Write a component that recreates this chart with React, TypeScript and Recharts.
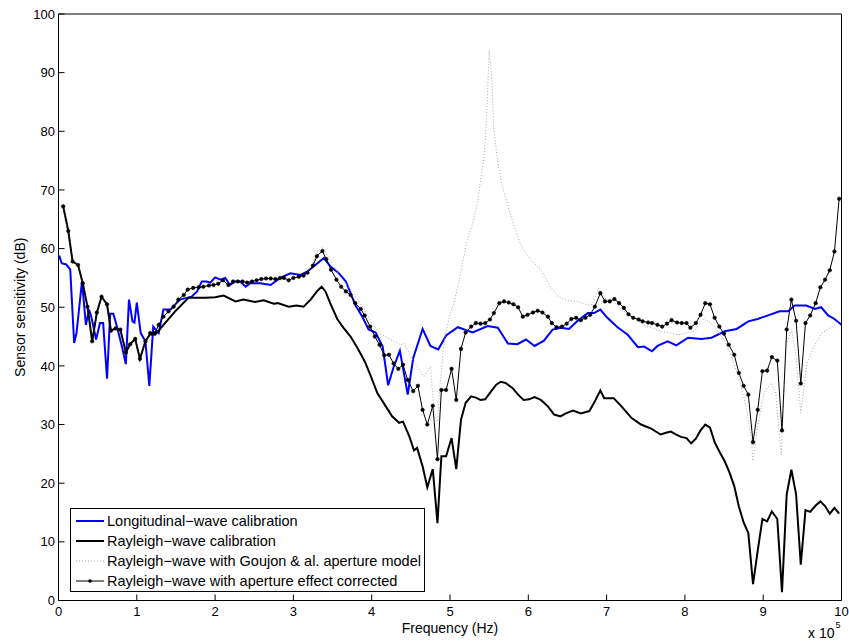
import React from "react";
import { LineChart, Line, XAxis, YAxis, Legend, Label } from "recharts";

// frequencies in units of 1e5 Hz, sensitivities in dB
const longFreq = [
  0.01, 0.04, 0.1, 0.15, 0.2, 0.23, 0.3, 0.35, 0.39, 0.42, 0.48, 0.53, 0.57, 0.62, 0.66, 0.7, 0.74, 0.81, 0.86, 0.9,
  0.945, 0.97, 1.0, 1.05, 1.11, 1.16, 1.21, 1.28, 1.34, 1.43, 1.55, 1.7, 1.77, 1.83, 1.89, 1.94, 2.0, 2.07, 2.13, 2.19,
  2.26, 2.32, 2.39, 2.45, 2.58, 2.71, 2.83, 2.96, 3.09, 3.18, 3.28, 3.39, 3.47, 3.58, 3.67, 3.73, 3.79, 3.88, 3.96, 4.05,
  4.14, 4.21, 4.28, 4.36, 4.46, 4.53, 4.65, 4.75, 4.85, 4.95, 5.1, 5.29, 5.48, 5.61, 5.74, 5.86, 5.97, 6.08, 6.2, 6.31,
  6.42, 6.52, 6.63, 6.76, 6.84, 6.92, 7.01, 7.14, 7.27, 7.4, 7.48, 7.58, 7.65, 7.78, 7.89, 8.04, 8.21, 8.34, 8.51, 8.66,
  8.81, 8.93, 9.08, 9.21, 9.32, 9.4, 9.55, 9.66, 9.74, 9.83, 9.91, 10.0,
];
const longSens = [
  58.8, 57.5, 57.3, 56.4, 43.9, 45.6, 54.4, 47.0, 49.6, 48.3, 44.5, 47.3, 47.3, 37.8, 48.9, 48.9, 47.0, 43.3, 40.3, 51.3,
  47.6, 47.4, 50.8, 45.6, 44.2, 36.6, 46.7, 45.6, 49.6, 49.6, 51.3, 51.8, 52.7, 54.4, 54.4, 54.2, 55.1, 54.7, 55.0, 53.8,
  54.4, 54.4, 53.5, 54.1, 54.1, 53.8, 55.0, 55.8, 55.5, 56.1, 57.2, 58.4, 57.0, 55.8, 54.4, 52.4, 50.4, 48.4, 46.2, 45.7,
  43.3, 36.7, 39.8, 42.6, 35.1, 41.3, 46.3, 43.4, 42.8, 45.2, 46.6, 45.7, 46.8, 46.5, 43.8, 43.7, 44.5, 43.4, 44.3, 46.2,
  46.5, 46.3, 47.7, 49.0, 49.0, 49.6, 48.2, 46.6, 45.3, 43.2, 43.3, 42.5, 43.4, 44.2, 43.5, 44.8, 44.6, 44.8, 45.9, 46.3,
  47.6, 48.0, 48.7, 49.3, 49.3, 50.3, 50.3, 49.7, 50.0, 48.6, 48.0, 47.0,
];

const rayFreq = [
  0.06, 0.125, 0.18, 0.25, 0.31, 0.37, 0.43, 0.49, 0.55, 0.62, 0.67, 0.73, 0.79, 0.86, 0.915, 0.98, 1.04, 1.11, 1.17, 1.235,
  1.36, 1.49, 1.66, 1.875, 2.0, 2.11, 2.26, 2.36, 2.51, 2.62, 2.75, 2.8, 2.94, 3.04, 3.13, 3.22, 3.3, 3.36, 3.41, 3.47,
  3.56, 3.64, 3.73, 3.82, 3.91, 3.99, 4.07, 4.18, 4.26, 4.35, 4.4, 4.48, 4.54, 4.58, 4.65, 4.71, 4.78, 4.84, 4.89, 4.95,
  5.02, 5.08, 5.14, 5.2, 5.27, 5.33, 5.39, 5.45, 5.51, 5.59, 5.65, 5.71, 5.8, 5.87, 5.94, 6.01, 6.08, 6.16, 6.25, 6.33,
  6.41, 6.48, 6.57, 6.67, 6.78, 6.84, 6.92, 6.97, 7.09, 7.19, 7.32, 7.44, 7.57, 7.69, 7.76, 7.82, 7.89, 7.95, 8.02, 8.08,
  8.14, 8.2, 8.26, 8.32, 8.38, 8.44, 8.51, 8.57, 8.63, 8.69, 8.75, 8.81, 8.87, 8.93, 8.99, 9.05, 9.11, 9.18, 9.24, 9.3,
  9.36, 9.42, 9.48, 9.54, 9.6, 9.67, 9.73, 9.79, 9.85, 9.91, 9.97,
];
const raySens = [
  67.2, 63.0, 57.8, 57.2, 54.1, 50.1, 44.2, 49.1, 51.8, 50.5, 46.0, 46.4, 46.2, 42.3, 43.7, 44.6, 41.2, 44.2, 45.4, 45.3,
  47.3, 49.3, 51.6, 51.6, 51.7, 52.0, 51.0, 51.3, 50.9, 51.2, 50.6, 50.7, 50.1, 50.3, 50.1, 51.3, 52.7, 53.5, 52.7, 50.7,
  48.0, 46.5, 45.0, 43.0, 40.8, 38.2, 35.4, 33.1, 31.4, 30.3, 30.5, 28.0, 25.6, 26.0, 22.9, 19.3, 22.4, 13.2, 24.6, 24.6,
  27.7, 22.4, 30.8, 33.7, 34.8, 34.6, 34.2, 34.3, 35.4, 36.8, 37.3, 37.1, 36.2, 35.1, 34.2, 34.3, 34.7, 34.2, 33.1, 31.7,
  31.4, 31.9, 32.4, 31.9, 32.3, 33.7, 35.8, 34.5, 34.5, 33.1, 31.1, 30.0, 29.3, 28.3, 28.6, 28.8, 28.3, 27.9, 27.7, 26.8,
  27.6, 29.0, 30.0, 29.5, 27.0, 25.4, 23.7, 21.8, 19.5, 16.0, 13.3, 11.5, 2.8, 8.5, 13.9, 13.5, 15.2, 13.9, 1.4, 18.1,
  22.3, 18.1, 6.1, 15.4, 15.1, 16.2, 16.9, 16.1, 14.8, 15.8, 14.8,
];

const goujonFreq = [
  0.06, 0.125, 0.18, 0.25, 0.31, 0.37, 0.43, 0.49, 0.55, 0.62, 0.67, 0.73, 0.79, 0.86, 0.915, 0.98, 1.04, 1.11, 1.17, 1.23,
  1.28, 1.34, 1.405, 1.47, 1.53, 1.6, 1.65, 1.72, 1.79, 1.85, 1.92, 1.98, 2.04, 2.1, 2.17, 2.23, 2.29, 2.35, 2.41, 2.47,
  2.53, 2.59, 2.65, 2.71, 2.77, 2.83, 2.88, 2.94, 3.0, 3.07, 3.13, 3.18, 3.25, 3.3, 3.37, 3.47, 3.6, 3.73, 3.82, 3.92,
  3.99, 4.11, 4.24, 4.37, 4.41, 4.5, 4.58, 4.67, 4.75, 4.8, 4.84, 4.88, 4.93, 4.99, 5.05, 5.11, 5.16, 5.22, 5.29, 5.35,
  5.39, 5.44, 5.47, 5.5, 5.53, 5.56, 5.61, 5.67, 5.74, 5.82, 5.91, 6.03, 6.16, 6.28, 6.37, 6.5, 6.63, 6.76, 6.82, 6.9,
  6.99, 7.09, 7.19, 7.48, 7.7, 7.91, 8.12, 8.25, 8.38, 8.51, 8.61, 8.69, 8.78, 8.85, 8.87, 8.93, 9.01, 9.1, 9.16, 9.23,
  9.29, 9.36, 9.42, 9.48, 9.56, 9.65, 9.75, 9.88, 9.97,
];
const goujonSens = [
  67.2, 63.0, 57.8, 57.2, 54.1, 50.1, 44.2, 49.1, 51.8, 50.5, 46.0, 46.4, 46.2, 42.3, 43.7, 44.6, 41.2, 44.2, 45.6, 45.6,
  47.0, 48.4, 49.3, 50.1, 51.3, 52.1, 53.0, 53.3, 53.4, 53.5, 53.7, 53.8, 54.0, 54.6, 53.8, 54.4, 54.4, 54.4, 54.2, 54.4,
  54.6, 54.8, 54.9, 54.9, 54.8, 55.0, 55.0, 54.6, 55.0, 55.2, 55.4, 55.9, 57.5, 59.5, 60.2, 58.1, 55.2, 53.0, 51.3, 49.3,
  47.5, 45.5, 44.5, 43.6, 43.9, 41.6, 39.9, 38.2, 39.9, 32.0, 30.5, 38.0, 44.5, 48.4, 50.7, 54.1, 57.5, 61.5, 64.3, 67.7,
  71.7, 76.3, 83.1, 93.8, 89.9, 80.2, 74.6, 70.6, 67.2, 63.8, 60.4, 58.1, 56.4, 53.6, 51.9, 51.1, 51.0, 50.4, 50.5, 53.2,
  51.4, 51.0, 49.6, 47.0, 45.9, 45.3, 45.9, 48.2, 46.7, 44.2, 41.0, 38.0, 33.1, 27.4, 23.8, 29.7, 35.4, 37.1, 35.4, 24.8,
  43.4, 46.2, 41.6, 32.0, 40.5, 43.4, 45.6, 46.7, 47.6,
];

const corrFreq = [
  0.06, 0.125, 0.18, 0.25, 0.31, 0.37, 0.43, 0.49, 0.55, 0.62, 0.67, 0.73, 0.79, 0.86, 0.915, 0.98, 1.04, 1.11, 1.17, 1.23,
  1.28, 1.34, 1.405, 1.47, 1.53, 1.6, 1.65, 1.72, 1.79, 1.85, 1.92, 1.98, 2.04, 2.1, 2.17, 2.23, 2.29, 2.35, 2.41, 2.47,
  2.53, 2.59, 2.65, 2.71, 2.77, 2.83, 2.88, 2.94, 3.0, 3.07, 3.13, 3.18, 3.25, 3.3, 3.37, 3.42, 3.48, 3.55, 3.61, 3.67,
  3.73, 3.79, 3.86, 3.91, 3.98, 4.04, 4.1, 4.16, 4.22, 4.28, 4.34, 4.4, 4.46, 4.53, 4.59, 4.65, 4.71, 4.78, 4.84, 4.89,
  4.95, 5.02, 5.08, 5.14, 5.2, 5.27, 5.33, 5.39, 5.45, 5.51, 5.56, 5.63, 5.69, 5.75, 5.81, 5.87, 5.93, 5.99, 6.06, 6.12,
  6.18, 6.25, 6.3, 6.36, 6.43, 6.49, 6.55, 6.61, 6.67, 6.73, 6.79, 6.85, 6.92, 6.98, 7.04, 7.1, 7.16, 7.22, 7.28, 7.34,
  7.41, 7.46, 7.53, 7.58, 7.65, 7.71, 7.77, 7.83, 7.9, 7.96, 8.02, 8.07, 8.14, 8.2, 8.26, 8.32, 8.38, 8.44, 8.5, 8.56,
  8.63, 8.69, 8.75, 8.81, 8.87, 8.93, 8.99, 9.05, 9.11, 9.18, 9.24, 9.3, 9.36, 9.42, 9.48, 9.54, 9.6, 9.67, 9.73, 9.79,
  9.85, 9.91, 9.97,
];
const corrSens = [
  67.2, 63.0, 57.8, 57.2, 54.1, 50.1, 44.2, 49.1, 51.8, 50.5, 46.0, 46.4, 46.2, 42.3, 43.7, 44.6, 41.2, 44.2, 45.6, 45.6,
  47.0, 48.4, 49.3, 50.1, 51.3, 52.1, 53.0, 53.3, 53.4, 53.5, 53.7, 53.8, 54.0, 54.6, 53.8, 54.4, 54.4, 54.4, 54.2, 54.4,
  54.6, 54.8, 54.9, 54.9, 54.8, 55.0, 55.0, 54.6, 55.0, 55.2, 55.4, 55.9, 57.1, 58.7, 59.6, 58.2, 56.4, 54.7, 53.5, 52.7,
  52.1, 50.7, 49.7, 48.6, 46.7, 45.0, 43.6, 41.8, 41.9, 40.4, 39.5, 40.2, 37.6, 35.7, 36.6, 32.5, 30.0, 33.2, 24.1, 35.9,
  35.9, 39.5, 34.2, 42.9, 45.7, 46.7, 47.3, 47.2, 47.3, 47.9, 49.0, 50.7, 51.0, 50.8, 50.5, 50.0, 48.4, 48.7, 49.1, 49.4,
  49.1, 48.4, 47.3, 46.6, 46.7, 47.2, 48.0, 48.2, 47.8, 48.2, 48.7, 50.1, 52.4, 51.0, 51.0, 51.4, 50.7, 49.9, 48.8, 48.2,
  47.9, 47.6, 47.4, 47.3, 47.0, 46.7, 47.2, 47.8, 47.4, 47.3, 47.3, 46.5, 47.3, 48.7, 50.7, 50.5, 48.2, 46.7, 45.5, 43.6,
  41.9, 38.8, 36.6, 35.1, 27.0, 32.5, 39.1, 39.2, 41.5, 40.9, 29.0, 46.2, 51.3, 47.7, 37.0, 47.3, 48.6, 50.7, 53.4, 54.7,
  56.3, 59.5, 68.5,
];

const xTicks = [0, 1, 2, 3, 4, 5, 6, 7, 8, 9, 10];
const yTicks = [0, 10, 20, 30, 40, 50, 60, 70, 80, 90, 100];

const seriesNames = [
  "Longitudinal\u2212wave calibration",
  "Rayleigh\u2212wave calibration",
  "Rayleigh\u2212wave with Goujon & al. aperture model",
  "Rayleigh\u2212wave with aperture effect corrected",
];

const toPoints = (xs: number[], ys: number[]) => xs.map((x, i) => ({ x, y: ys[i] }));

const longData = toPoints(longFreq, longSens);
const rayData = toPoints(rayFreq, raySens);
const goujonData = toPoints(goujonFreq, goujonSens);
const corrData = toPoints(corrFreq, corrSens);

const FONT = '"Liberation Sans", Arial, Helvetica, sans-serif';
const GRAY = "#a8a8a8";

function LegendBox() {
  const sample = (i: number) => {
    if (i === 0) return <line x1={0} y1={6} x2={28} y2={6} stroke="#0000ff" strokeWidth={2} />;
    if (i === 1) return <line x1={0} y1={6} x2={28} y2={6} stroke="#000" strokeWidth={2} />;
    if (i === 2)
      return <line x1={0} y1={6} x2={28} y2={6} stroke={GRAY} strokeWidth={1} strokeDasharray="1 2" />;
    return (
      <g>
        <line x1={0} y1={6} x2={28} y2={6} stroke="#000" strokeWidth={1} />
        <circle cx={14} cy={6} r={1.8} fill="#000" />
      </g>
    );
  };
  return (
    <div
      style={{
        width: 355,
        height: 84,
        boxSizing: "border-box",
        border: "1px solid #000",
        background: "#fff",
        paddingTop: 2,
        fontFamily: FONT,
        fontSize: 14.5,
        color: "#000",
      }}
    >
      {seriesNames.map((name, i) => (
        <div key={name} style={{ height: 20, display: "flex", alignItems: "center", whiteSpace: "nowrap" }}>
          <svg width={28} height={12} style={{ marginLeft: 5, marginRight: 3 }}>
            {sample(i)}
          </svg>
          <span>{name}</span>
        </div>
      ))}
    </div>
  );
}

export default function App() {
  const tickStyle = { fontSize: 13, fill: "#000", fontFamily: FONT };
  return (
    <div style={{ position: "absolute", left: 0, top: 0, width: 849, height: 644, background: "#fff" }}>
      <LineChart
        width={849}
        height={644}
        margin={{ top: 13, right: 6.5, left: 8.5, bottom: 13.5 }}
        style={{ fontFamily: FONT }}
      >
        <XAxis
          dataKey="x"
          type="number"
          domain={[0, 10]}
          allowDataOverflow
          ticks={xTicks}
          interval={0}
          height={30}
          tickSize={-6}
          tickMargin={12.5}
          tick={tickStyle}
          stroke="#000"
        >
          <Label
            value="Frequency (Hz)"
            position="insideBottom"
            offset={-2}
            style={{ fontSize: 14, fill: "#000", fontFamily: FONT }}
          />
          <Label
            content={() => (
              <text x={808} y={638} fontSize={14} fill="#000" fontFamily={FONT}>
                x 10
                <tspan dx={1} dy={-10} fontSize={9}>
                  5
                </tspan>
              </text>
            )}
          />
        </XAxis>
        <XAxis
          xAxisId="top"
          orientation="top"
          dataKey="x"
          type="number"
          domain={[0, 10]}
          allowDataOverflow
          ticks={xTicks}
          interval={0}
          height={1}
          tickSize={-6}
          tick={false}
          stroke="#000"
        />
        <YAxis
          type="number"
          domain={[0, 100]}
          allowDataOverflow
          ticks={yTicks}
          interval={0}
          width={50}
          tickSize={-6}
          tickMargin={9.5}
          tick={tickStyle}
          stroke="#000"
        >
          <Label
            value="Sensor sensitivity (dB)"
            angle={-90}
            position="insideLeft"
            offset={11.5}
            style={{ fontSize: 14, fill: "#000", fontFamily: FONT, textAnchor: "middle" }}
          />
        </YAxis>
        <YAxis
          yAxisId="right"
          orientation="right"
          type="number"
          domain={[0, 100]}
          allowDataOverflow
          ticks={yTicks}
          interval={0}
          width={1}
          tickSize={-6}
          tick={false}
          stroke="#000"
        />
        <Legend
          layout="vertical"
          align="center"
          verticalAlign="middle"
          wrapperStyle={{ left: 70, top: 508, width: 355, height: 84 }}
          content={() => <LegendBox />}
        />
        <Line
          data={longData}
          dataKey="y"
          name={seriesNames[0]}
          type="linear"
          stroke="#0000ff"
          strokeWidth={2}
          dot={false}
          activeDot={false}
          isAnimationActive={false}
        />
        <Line
          data={rayData}
          dataKey="y"
          name={seriesNames[1]}
          type="linear"
          stroke="#000"
          strokeWidth={2}
          dot={false}
          activeDot={false}
          isAnimationActive={false}
        />
        <Line
          data={goujonData}
          dataKey="y"
          name={seriesNames[2]}
          type="linear"
          stroke={GRAY}
          strokeWidth={1}
          strokeDasharray="1 2"
          dot={false}
          activeDot={false}
          isAnimationActive={false}
        />
        <Line
          data={corrData}
          dataKey="y"
          name={seriesNames[3]}
          type="linear"
          stroke="#000"
          strokeWidth={1}
          dot={{ r: 1.8, fill: "#000", stroke: "#000", strokeWidth: 0.5 }}
          activeDot={false}
          isAnimationActive={false}
        />
      </LineChart>
    </div>
  );
}
